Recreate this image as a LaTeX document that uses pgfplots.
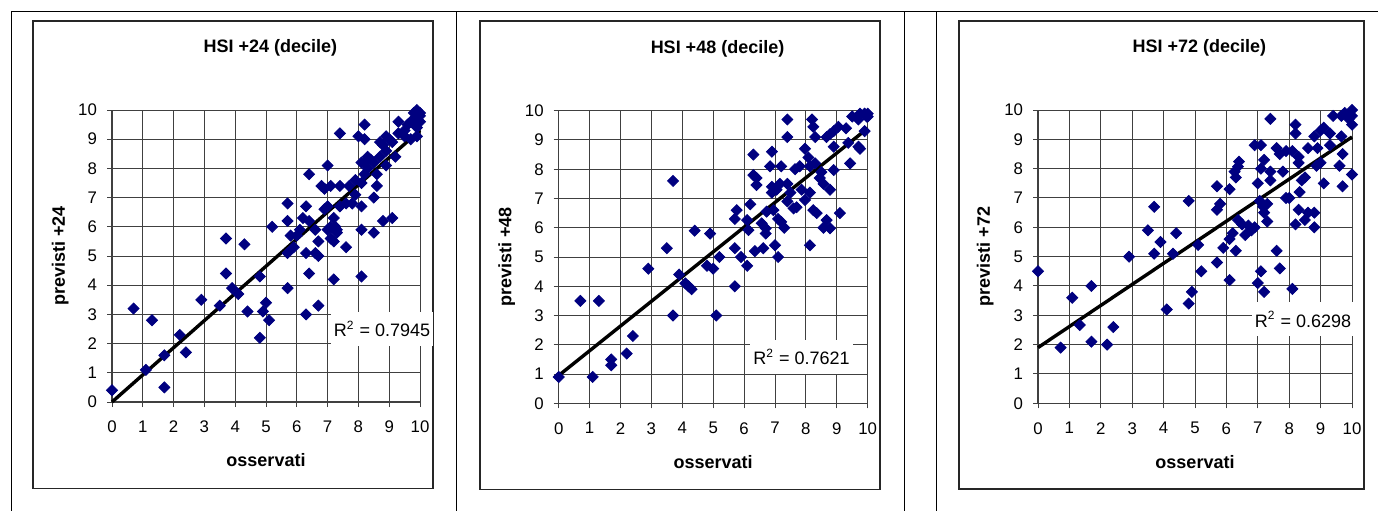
\documentclass[border=0pt]{standalone}
\usepackage{pgfplots}
\pgfplotsset{compat=1.18}
\usepackage{fontspec}
\setmainfont{Liberation Sans}
\definecolor{navy}{RGB}{0,0,128}
\tikzset{rlab/.style={fill=white, inner xsep=1.5pt, inner ysep=4.5pt, font=\fontsize{9}{11}\selectfont},
  ttl/.style={anchor=center, font=\bfseries\fontsize{9}{11}\selectfont}}
\pgfplotsset{
  hsi/.style={
    scale only axis,
    xmin=0, xmax=10, ymin=0, ymax=10,
    xtick={0,1,...,10}, ytick={0,1,...,10},
    axis x line*=bottom, axis y line*=left,
    axis line style={black!75, line width=0.7pt},
    tick align=outside, major tick length=2.5pt,
    tick style={black!75, line width=0.5pt},
    grid=major, major grid style={black!75, line width=0.5pt},
    clip=false,
    /pgf/number format/assume math mode=true,
    ticklabel style={font=\fontsize{8.4}{10}\selectfont},
    xticklabel style={yshift=-3.5pt},
    yticklabel style={xshift=-1.5pt},
    xlabel style={at={(axis description cs:0.5,-0.2)}, anchor=center, font=\bfseries\fontsize{9}{11}\selectfont},
    ylabel style={at={(axis description cs:-0.168,0.5)}, anchor=center, font=\bfseries\fontsize{9}{11}\selectfont},
    xlabel={osservati},
  },
  pts/.style={only marks, mark=square*, mark size=1.95pt, mark options={rotate=45, fill=navy, draw=navy}},
  reg/.style={black, line width=1.7pt, no markers},
}
\pgfplotstableread{
x y
0 0.4
0.7 3.2
1.3 2.8
1.1 1.1
1.7 1.6
1.7 0.5
2.2 2.3
2.4 1.7
2.9 3.5
3.5 3.3
3.7 5.6
3.7 4.4
3.9 3.9
4.1 3.7
4.3 5.4
4.4 3.1
4.8 4.3
4.8 2.2
4.9 3.1
5.0 3.4
5.1 2.8
5.2 6.0
5.7 6.8
5.7 6.2
5.7 5.1
5.7 3.9
5.8 5.7
5.9 5.3
6.1 5.9
6.0 5.7
6.3 3.0
6.3 6.7
6.2 6.3
6.4 7.8
6.4 4.4
6.3 5.1
6.4 6.2
6.6 5.9
6.6 5.1
6.7 5.0
6.7 3.3
6.7 5.5
6.8 7.4
6.9 6.6
6.9 7.3
7.0 8.1
7.1 7.4
7.0 6.7
7.1 6.0
7.0 5.9
7.2 6.3
7.25 6.0
7.2 5.5
7.1 5.6
7.2 4.2
7.3 5.8
7.3 5.9
7.4 9.2
7.4 7.4
7.4 6.7
7.6 5.3
7.7 7.4
7.6 6.8
7.8 6.8
7.9 7.1
7.9 7.6
8.0 9.1
8.1 5.9
8.1 4.3
8.1 6.7
8.1 7.5
8.2 9.5
8.2 9.0
8.2 8.2
8.3 8.4
8.2 7.8
8.1 8.2
8.3 8.0
8.4 8.3
8.5 8.2
8.5 7.0
8.5 5.8
8.6 7.4
8.6 7.8
8.7 8.9
8.7 8.4
8.8 6.2
8.9 8.1
8.9 9.1
8.9 8.6
8.8 8.8
9.0 9.0
9.1 6.3
9.1 8.9
9.2 8.4
9.3 9.6
9.3 9.2
9.5 9.3
9.5 9.1
9.6 9.5
9.7 9.0
9.7 9.6
9.8 9.9
9.8 9.7
9.9 10.0
9.9 9.1
9.9 9.4
9.9 9.8
10.0 9.6
10.0 9.9
10.0 9.8
}\dataA
\pgfplotstableread{
x y
0 0.9
0.7 3.5
1.3 3.5
1.1 0.9
1.7 1.5
1.7 1.3
2.2 1.7
2.4 2.3
2.9 4.6
3.5 5.3
3.7 7.6
3.7 3.0
3.9 4.4
4.1 4.1
4.2 4.0
4.3 3.9
4.4 5.9
4.8 4.7
4.9 5.8
5.0 4.6
5.1 3.0
5.2 5.0
5.7 4.0
5.7 5.3
5.76 6.6
5.7 6.3
5.9 5.0
6.1 4.7
6.1 6.26
6.14 5.92
6.2 6.8
6.3 8.5
6.3 7.8
6.4 7.46
6.4 7.7
6.35 5.2
6.57 6.15
6.62 5.3
6.7 5.8
6.7 5.98
6.73 6.55
6.84 8.1
6.9 8.6
6.9 7.4
6.9 7.2
6.95 6.6
7.0 5.4
7.05 7.3
7.1 5.0
7.2 8.1
7.1 6.3
7.16 7.5
7.2 6.2
7.3 6.0
7.4 9.7
7.4 9.1
7.4 6.9
7.5 7.2
7.4 7.5
7.6 6.66
7.7 6.7
7.65 8.0
7.8 8.1
7.86 7.3
7.97 6.95
7.97 8.7
8.08 8.4
8.13 8.1
8.13 7.2
8.13 5.4
8.2 9.7
8.24 9.45
8.3 9.1
8.24 6.6
8.35 6.5
8.3 8.2
8.45 7.7
8.57 7.5
8.5 7.9
8.57 6.0
8.67 6.26
8.78 7.3
8.78 5.98
8.67 9.1
8.78 9.2
8.9 9.3
8.9 7.97
8.9 8.77
9.05 9.45
9.1 6.5
9.3 9.4
9.37 8.9
9.43 8.2
9.5 9.8
9.7 9.7
9.75 9.9
9.7 8.77
9.75 8.7
9.97 9.8
10.0 9.8
9.9 9.3
10.0 9.9
9.9 9.9
}\dataB
\pgfplotstableread{
x y
0 4.5
0.72 1.9
1.09 3.6
1.33 2.67
1.7 4.0
1.7 2.1
2.2 2.0
2.4 2.6
2.9 5.0
3.5 5.9
3.7 6.7
3.7 5.1
3.9 5.5
4.1 3.2
4.3 5.1
4.4 5.8
4.8 6.9
4.8 3.4
4.9 3.8
5.1 5.4
5.2 4.5
5.7 7.4
5.7 4.8
5.7 6.6
5.8 6.8
5.9 5.3
6.1 7.3
6.1 4.2
6.1 5.6
6.2 5.8
6.3 5.2
6.26 7.9
6.37 8.07
6.4 8.24
6.3 7.7
6.37 6.25
6.5 6.1
6.6 5.74
6.7 6.06
6.8 5.9
6.9 6.0
6.9 8.8
7.1 8.8
7.0 7.5
7.0 4.1
7.1 8.0
7.2 8.3
7.06 6.9
7.17 6.7
7.1 4.5
7.2 3.8
7.2 6.5
7.3 6.2
7.3 6.8
7.4 9.7
7.4 7.9
7.4 7.6
7.6 8.7
7.7 8.5
7.6 5.2
7.7 4.6
7.8 7.9
7.9 8.6
7.9 7.0
8.0 7.0
8.1 8.6
8.1 3.9
8.2 9.5
8.2 9.2
8.2 6.1
8.3 8.4
8.3 8.2
8.3 6.6
8.33 7.2
8.4 7.6
8.5 6.25
8.6 6.5
8.5 7.7
8.6 8.7
8.8 9.1
8.8 6.0
8.8 6.5
8.9 8.7
8.87 8.1
9.0 8.2
9.0 9.3
9.1 9.4
9.1 7.5
9.3 9.2
9.3 8.8
9.4 9.8
9.6 8.1
9.66 9.1
9.7 8.5
9.7 7.4
9.66 9.8
9.77 9.9
9.9 9.7
10.0 10.0
10.0 9.8
10.0 9.5
10.0 7.8
}\dataC
\begin{document}
\begin{tikzpicture}
\path[use as bounding box] (0,0) rectangle (689pt,255.5pt);
% table rules
\draw[black, line width=0.5pt] (5.5pt,250pt) -- (689pt,250pt);
\foreach \xx in {5.5,228,452.25,468} \draw[black, line width=0.5pt] (\xx pt,250pt) -- (\xx pt,0pt);
% chart frames
\draw[black!85, line width=0.7pt] (16.5pt,245pt) rectangle (216.5pt,11.25pt);
\draw[black!85, line width=0.7pt] (240pt,245pt) rectangle (440pt,10.75pt);
\draw[black!85, line width=0.7pt] (479.5pt,245pt) rectangle (682pt,11pt);

\begin{axis}[hsi, at={(56pt,54.5pt)}, anchor=south west, width=154pt, height=146pt,
  ylabel={previsti +24}]
\addplot[pts] table[x=x,y=y] {\dataA};
\addplot[reg] coordinates {(0,0) (10,9.3)};
\node[rlab] at (axis cs:8.77,2.5) {R\textsuperscript{2} = 0.7945};
\node[ttl] at (axis description cs:0.514,1.213) {HSI +24 (decile)};
\end{axis}

\begin{axis}[hsi, at={(279.35pt,53.85pt)}, anchor=south west, width=154.5pt, height=146.3pt,
  ylabel={previsti +48}]
\addplot[pts] table[x=x,y=y] {\dataB};
\addplot[reg] coordinates {(0,0.95) (10,9.4)};
\node[rlab] at (axis cs:7.86,1.59) {R\textsuperscript{2} = 0.7621};
\node[ttl] at (axis description cs:0.514,1.213) {HSI +48 (decile)};
\end{axis}

\begin{axis}[hsi, at={(519pt,53.85pt)}, anchor=south west, width=157pt, height=146.65pt,
  ylabel={previsti +72}]
\addplot[pts] table[x=x,y=y] {\dataC};
\addplot[reg] coordinates {(0,1.9) (10,9.08)};
\node[rlab] at (axis cs:8.44,2.87) {R\textsuperscript{2} = 0.6298};
\node[ttl] at (axis description cs:0.514,1.213) {HSI +72 (decile)};
\end{axis}
\end{tikzpicture}
\end{document}
